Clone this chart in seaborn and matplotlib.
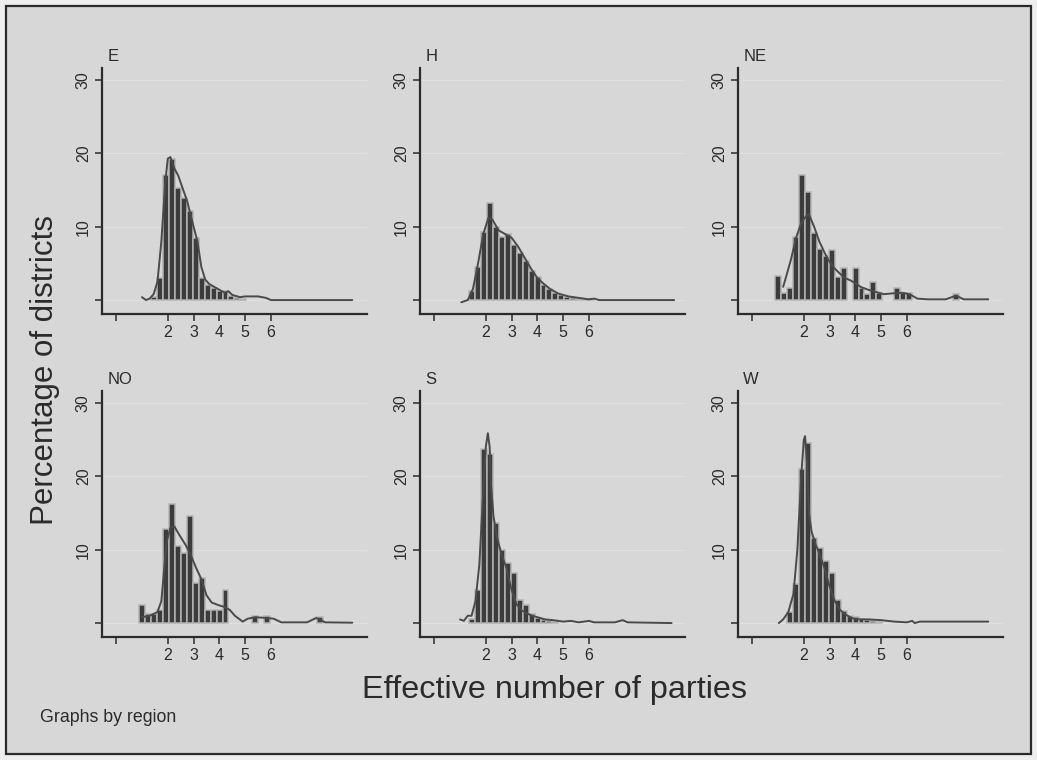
import numpy as np
import pandas as pd
import matplotlib
matplotlib.use("Agg")
import matplotlib.pyplot as plt
import seaborn as sns
from matplotlib.patches import Rectangle

# ---------------------------------------------------------------
# Data: percentage of districts per bin of the effective number
# of parties, with kernel-density overlays, by region
# ---------------------------------------------------------------
regions = ["E", "H", "NE", "NO", "S", "W"]
bin_edges = [round(0.9 + 0.23 * k, 2) for k in range(37)]

pct_E = [0, 0, 0.4, 3.0, 17.0, 19.3, 15.3, 13.9, 12.1, 8.5, 3.0, 2.1, 1.7,
         1.2, 1.2, 0.5, 0.3, 0.2]
pct_H = [0, 0, 1.2, 4.5, 9.3, 13.2, 10.0, 8.6, 9.0, 7.5, 6.4, 5.3, 4.0, 3.1,
         2.0, 1.5, 1.0, 0.7, 0.4, 0.3, 0.2, 0.2, 0.1]
pct_NE = [3.3, 1.0, 1.6, 8.6, 17.0, 14.8, 9.2, 7.0, 6.0, 6.8, 3.2, 4.4, 0,
          4.4, 1.6, 0.8, 2.5, 1.0, 0, 0, 1.6, 1.0, 1.0, 0, 0, 0, 0, 0, 0, 0,
          0.8]
pct_NO = [2.4, 1.2, 1.2, 1.8, 12.8, 16.2, 10.5, 9.5, 14.6, 5.4, 6.1, 1.8,
          1.8, 1.8, 4.5, 0, 0, 0, 0, 1.0, 0, 1.0, 0, 0, 0, 0, 0, 0, 0, 0, 0.8]
pct_S = [0, 0, 0.5, 4.5, 23.8, 23.0, 13.6, 10.0, 8.2, 6.8, 3.1, 2.5, 1.3,
         0.7, 0.4, 0.3, 0.2]
pct_W = [0, 0, 1.5, 5.3, 21.0, 24.5, 11.6, 10.2, 8.5, 6.8, 3.2, 1.7, 1.0,
         0.8, 0.5, 0.4, 0.3, 0.2]

dens_E_x = [1.0, 1.15, 1.3, 1.45, 1.6, 1.75, 1.9, 2.0, 2.1, 2.25, 2.4, 2.6,
            2.75, 3.0, 3.15, 3.3, 3.45, 3.6, 3.8, 4.0, 4.2, 4.35, 4.5, 4.8,
            5.0, 5.5, 5.8, 6.0, 7.0, 8.0, 9.15]
dens_E_y = [0.4, 0.0, 0.2, 0.8, 2.5, 8.0, 16.0, 19.3, 19.5, 18.0, 17.0, 15.0,
            13.5, 10.0, 8.0, 4.5, 2.8, 2.2, 1.8, 1.4, 1.0, 1.2, 0.7, 0.4,
            0.5, 0.5, 0.3, 0.0, 0.0, 0.0, 0.0]

dens_H_x = [1.05, 1.3, 1.5, 1.7, 1.9, 2.1, 2.25, 2.5, 2.75, 3.0, 3.25, 3.5,
            3.75, 4.0, 4.25, 4.5, 4.8, 5.2, 5.6, 6.0, 6.2, 6.4, 7.0, 8.0, 9.3]
dens_H_y = [-0.3, 0.0, 1.5, 5.0, 9.0, 11.2, 11.0, 9.5, 9.0, 8.5, 7.3, 5.8,
            4.3, 3.0, 2.2, 1.5, 0.9, 0.5, 0.3, 0.1, 0.2, 0.0, 0.0, 0.0, 0.0]

dens_NE_x = [1.2, 1.3, 1.5, 1.7, 1.9, 2.1, 2.2, 2.4, 2.6, 2.8, 3.0, 3.2, 3.4,
             3.6, 3.8, 4.0, 4.2, 4.5, 4.8, 5.1, 5.4, 5.8, 6.1, 6.4, 6.8, 7.5,
             7.9, 8.2, 9.15]
dens_NE_y = [1.8, 3.0, 5.5, 8.5, 10.5, 11.5, 11.7, 10.0, 8.0, 6.5, 5.2, 4.3,
             3.6, 3.0, 2.7, 2.3, 1.8, 1.4, 1.1, 0.8, 0.9, 1.0, 0.8, 0.2, 0.1,
             0.1, 0.6, 0.1, 0.1]

dens_NO_x = [1.0, 1.3, 1.6, 1.75, 1.85, 1.95, 2.1, 2.25, 2.45, 2.7, 2.9, 3.1,
             3.3, 3.5, 3.7, 4.0, 4.2, 4.4, 4.6, 4.9, 5.1, 5.4, 5.8, 6.1, 6.4,
             7.4, 7.75, 8.1, 9.15]
dens_NO_y = [0.8, 1.0, 1.5, 3.0, 7.0, 11.0, 13.0, 13.2, 12.0, 10.6, 9.2, 7.5,
             6.0, 3.8, 2.8, 2.4, 2.2, 1.8, 1.0, 0.2, 0.6, 0.8, 0.7, 0.6, 0.1,
             0.1, 0.7, 0.1, 0.05]

dens_S_x = [1.0, 1.15, 1.3, 1.45, 1.6, 1.75, 1.9, 2.0, 2.08, 2.15, 2.2, 2.3,
            2.45, 2.6, 2.8, 3.0, 3.2, 3.4, 3.6, 3.8, 4.0, 4.3, 4.6, 5.0, 5.3,
            5.6, 6.0, 6.2, 7.0, 7.3, 7.5, 9.2]
dens_S_y = [0.5, 0.3, 1.0, 1.0, 3.0, 8.0, 18.0, 24.0, 25.9, 24.0, 19.0, 14.5,
            11.5, 9.5, 7.5, 4.5, 2.5, 1.7, 1.3, 1.0, 0.8, 0.5, 0.4, 0.2, 0.3,
            0.1, 0.3, 0.1, 0.1, 0.4, 0.1, 0.0]

dens_W_x = [1.03, 1.2, 1.4, 1.6, 1.75, 1.9, 2.0, 2.05, 2.12, 2.2, 2.3, 2.45,
            2.6, 2.8, 3.0, 3.2, 3.4, 3.6, 3.8, 4.0, 4.5, 5.0, 5.5, 6.0, 6.2,
            6.3, 6.5, 7.5, 9.15]
dens_W_y = [0.0, 0.5, 1.5, 4.0, 10.0, 20.0, 25.0, 25.5, 22.0, 15.0, 12.5,
            10.8, 9.5, 7.5, 5.0, 3.0, 1.8, 1.2, 0.8, 0.5, 0.5, 0.4, 0.2, 0.1,
            0.3, 0.0, 0.2, 0.2, 0.2]

pct = {"E": pct_E, "H": pct_H, "NE": pct_NE, "NO": pct_NO, "S": pct_S,
       "W": pct_W}
dens = {"E": (dens_E_x, dens_E_y), "H": (dens_H_x, dens_H_y),
        "NE": (dens_NE_x, dens_NE_y), "NO": (dens_NO_x, dens_NO_y),
        "S": (dens_S_x, dens_S_y), "W": (dens_W_x, dens_W_y)}

y_ticks = [0, 10, 20, 30]
y_ticklabels = ["", "10", "20", "30"]
x_ticks = [0, 2, 3, 4, 5, 6]
x_ticklabels = ["", "2", "3", "4", "5", "6"]

# ---------------------------------------------------------------
# Figure styling
# ---------------------------------------------------------------
sns.set_style("ticks")
plt.rcParams["font.family"] = ["Liberation Sans", "DejaVu Sans"]

W, H = 1037, 760
fig = plt.figure(figsize=(W / 100, H / 100), dpi=100)
fig.patch.set_facecolor("#eeeeee")
frame = Rectangle((6 / W, 6 / H), 1025 / W, 748 / H,
                  transform=fig.transFigure, facecolor="#d7d7d7",
                  edgecolor="#2a2a2a", linewidth=1.6, zorder=-10)
fig.add_artist(frame)

ink = "#2b2b2b"
col_left = [102, 420, 738]
row_top = [68, 391]
pw, ph = 265, 246

edges = np.array(bin_edges)
centers = (edges[:-1] + edges[1:]) / 2
for i, reg in enumerate(regions):
    r, c = divmod(i, 3)
    l, t = col_left[c], row_top[r]
    ax = fig.add_axes([l / W, 1 - (t + ph) / H, pw / W, ph / H])
    ax.set_facecolor("none")
    ax.set_zorder(1)

    heights = np.zeros(len(centers))
    heights[:len(pct[reg])] = pct[reg]
    df = pd.DataFrame({"enp": centers, "pct": heights})
    sns.histplot(data=df, x="enp", weights="pct", bins=bin_edges, ax=ax,
                 stat="count", color="#3c3c3c", edgecolor="#b4b4b4",
                 linewidth=1.1, alpha=1.0)
    # empty bins leave no outline on the baseline
    for p in ax.patches:
        if p.get_height() == 0:
            p.set_visible(False)
    dx, dy = dens[reg]
    dd = pd.DataFrame({"enp": dx, "dens": dy})
    sns.lineplot(data=dd, x="enp", y="dens", ax=ax, color="#4a4a4a",
                 linewidth=1.4, estimator=None, sort=False)

    ax.set_xlim(-0.55, 9.72)
    ax.set_ylim(-1.9, 31.65)
    ax.set_xticks(x_ticks)
    ax.set_xticklabels(x_ticklabels, fontsize=11.5, color=ink)
    ax.set_yticks(y_ticks)
    ax.set_yticklabels(y_ticklabels, fontsize=11.5, color=ink, rotation=90,
                       va="center")
    ax.tick_params(direction="out", length=5, width=1.1, color=ink, pad=3)
    ax.grid(axis="y", color="#e0e0e0", linewidth=0.8)
    ax.set_axisbelow(True)
    for s in ("top", "right"):
        ax.spines[s].set_visible(False)
    for s in ("left", "bottom"):
        ax.spines[s].set_color(ink)
        ax.spines[s].set_linewidth(1.6)
    ax.set_xlabel("")
    ax.set_ylabel("")
    ax.text(0.02, 1.015, reg, transform=ax.transAxes, ha="left",
            va="bottom", fontsize=12, color=ink)

fig.text(45 / W, 1 - 370 / H, "Percentage of districts", rotation=90,
         ha="center", va="center", fontsize=22.5, color=ink)
fig.text(555 / W, 1 - 690 / H, "Effective number of parties",
         ha="center", va="center", fontsize=23.3, color=ink)
fig.text(40 / W, 1 - 718 / H, "Graphs by region", ha="left", va="center",
         fontsize=12.8, color=ink)

fig.savefig("out.png", dpi=100, facecolor=fig.get_facecolor())
